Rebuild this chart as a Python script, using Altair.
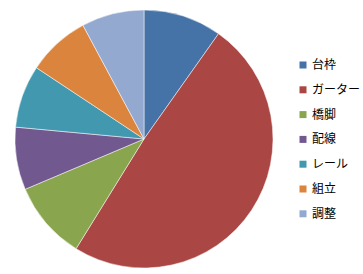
import altair as alt
import pandas as pd

categories = ["台枠", "ガーター", "橋脚", "配線", "レール", "組立", "調整"]
values = [10, 50, 10, 8, 8, 8, 8]
colors = ["#4572A7", "#AA4643", "#89A54E", "#71588F", "#4198AF", "#DB843D", "#93A9CF"]

df = pd.DataFrame({"cat": categories, "val": values, "idx": list(range(len(categories)))})

chart = alt.Chart(df).mark_arc(outerRadius=129, stroke="#ffffff", strokeWidth=0.5).encode(
    theta=alt.Theta("val:Q", stack=True),
    order=alt.Order("idx:Q"),
    x=alt.value(144),
    y=alt.value(139),
    color=alt.Color(
        "cat:N",
        scale=alt.Scale(domain=categories, range=colors),
        sort=categories,
        legend=alt.Legend(
            title=None,
            orient="none",
            legendX=297,
            legendY=59,
            symbolType="square",
            symbolSize=49,
            symbolStrokeWidth=0,
            labelFont="Noto Sans CJK JP",
            labelFontSize=12,
            labelColor="#000000",
            rowPadding=12.8,
            labelOffset=3,
        ),
    ),
).properties(
    width=363,
    height=274,
    autosize=alt.AutoSizeParams(type="none"),
    padding=0,
).configure_view(stroke=None)

chart.save("out.html", embed_options={"renderer": "svg", "actions": False})
